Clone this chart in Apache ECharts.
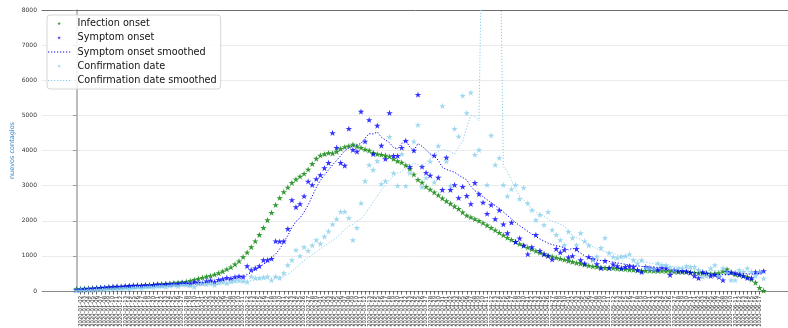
<!DOCTYPE html>
<html>
<head>
<meta charset="utf-8">
<script src="https://cdn.jsdelivr.net/npm/echarts@6/dist/echarts.min.js"></script>
<style>html,body{margin:0;padding:0;background:#fff}#c{width:788px;height:328px}</style>
</head>
<body>
<div id="c"></div>
<script>
// ---- data ----
const startDate = '2020-01-01';
const infectionOnset = [
55,60,70,75,80,90,95,100,110,115,
120,125,130,140,145,150,160,165,170,180,
190,200,205,215,225,240,250,265,290,320,
350,380,410,430,470,510,560,620,680,760,
850,970,1100,1250,1420,1600,1800,2020,2230,2450,
2650,2820,2950,3080,3180,3260,3340,3460,3620,3770,
3860,3900,3930,3920,3970,4050,4100,4130,4170,4120,
4080,4030,4000,3940,3900,3880,3860,3830,3760,3700,
3660,3580,3480,3320,3170,3090,2970,2890,2810,2730,
2640,2560,2490,2410,2340,2240,2150,2100,2050,2000,
1940,1870,1800,1730,1660,1590,1520,1460,1400,1340,
1290,1240,1190,1140,1090,1050,1010,980,950,920,
890,860,830,800,780,750,720,700,690,670,
660,650,650,640,630,620,610,600,590,580,
580,580,575,570,570,565,560,550,545,540,
540,530,520,510,510,500,490,500,510,560,
620,520,470,460,430,400,330,240,90,10];
const symptomOnset = [
30,40,50,60,70,80,90,100,110,120,
130,125,140,150,155,160,150,170,160,180,
190,175,200,190,210,200,230,220,200,250,
240,230,280,300,260,320,340,380,360,400,
420,400,710,600,650,710,880,880,920,1420,
1410,1420,1770,2590,2390,2480,2700,3120,3020,3190,
3300,3500,3650,4500,4080,3650,3570,4620,4020,3970,
5110,4260,4870,3900,4710,4140,3760,5070,3850,3850,
4080,4280,3540,4000,5590,3540,3370,3290,3860,3230,
2880,3800,2880,3020,2650,2970,2710,2480,3080,2760,
2520,2200,2450,2050,2300,1900,1650,1950,1400,1500,
1300,1050,1250,1600,1150,1050,1000,900,1200,1100,
1170,960,1000,1200,880,780,970,910,770,650,
860,660,760,710,650,690,710,690,600,540,
690,650,630,610,670,650,460,600,570,570,
560,520,430,370,540,500,430,460,400,310,
540,540,510,470,430,370,370,540,540,570];
const symptomSmoothed = [
30,38,46,55,64,72,82,92,100,110,
118,126,134,142,148,155,158,162,168,172,
178,184,190,195,200,205,210,215,220,228,
235,240,250,262,275,288,300,320,340,365,
390,420,470,530,600,680,760,850,950,1050,
1200,1380,1580,1800,1980,2080,2250,2450,2700,2950,
3150,3300,3450,3590,3720,3850,3990,4070,4120,4160,
4200,4350,4480,4470,4530,4380,4300,4220,4080,4050,
4200,4280,4100,4000,4200,4120,4020,3900,3840,3720,
3520,3460,3420,3380,3300,3230,3160,2980,2850,2800,
2680,2600,2520,2430,2340,2250,2150,2050,1950,1860,
1780,1700,1620,1550,1480,1420,1360,1320,1290,1270,
1230,1170,1220,1150,1080,1000,940,900,880,870,
860,840,820,800,780,760,745,730,715,700,
690,685,680,670,650,620,600,590,585,580,
570,550,525,510,500,490,480,475,470,465,
460,480,500,510,500,490,480,490,505,520];
const confirmationDate = [
10,20,15,30,25,40,35,50,45,60,
55,70,80,60,90,100,80,110,120,100,
130,140,120,150,170,140,180,170,150,120,
200,230,190,210,170,230,250,220,265,290,
310,280,260,410,370,370,390,410,310,410,
370,510,740,880,1170,1000,1250,1150,1300,1450,
1350,1550,1700,1900,2050,2260,2260,2080,1450,1800,
2500,3130,3590,3450,3700,3050,3130,4390,3360,3000,
3900,2990,3360,4260,4730,2960,3220,3690,3100,4130,
5270,3690,2990,4620,4400,5560,5070,5650,3880,4020,
45000,3020,4430,3590,3790,3020,2700,2900,3020,2620,
2940,2500,2300,2020,2170,1880,2250,1740,1600,1450,
1310,1690,1510,1310,1650,1420,1300,880,980,1230,
1510,1080,970,940,980,1000,1050,880,790,880,
680,650,630,790,740,740,680,600,640,650,
710,690,690,600,400,430,650,740,430,650,
510,310,310,600,550,650,550,430,550,360];
const confirmationSmoothed = [
10,12,15,18,22,26,30,35,40,44,
48,52,58,62,68,74,80,86,92,98,
104,110,118,126,132,138,144,150,150,155,
165,175,185,195,200,205,210,220,230,245,
255,265,280,300,320,335,350,365,370,385,
400,420,480,560,660,760,860,950,1030,1110,
1200,1280,1360,1440,1520,1620,1750,1850,1900,1990,
2050,2200,2350,2550,2700,2880,3000,3160,3280,3350,
3400,3480,3550,3650,3600,3550,3650,3780,3900,3980,
4020,4020,3950,3900,4100,4260,4650,5000,4970,4850,
12100,11900,12100,12000,11800,3540,3400,3150,2900,2700,
2600,2450,2350,2250,2200,2120,2050,1980,1950,1900,
1850,1700,1580,1520,1470,1400,1320,1260,1200,1160,
1120,1100,1080,1030,990,960,930,900,870,840,
820,800,770,750,740,730,700,690,680,670,
650,630,615,600,590,580,580,580,590,590,
580,560,550,550,550,550,540,520,510,500];
const yTicks = [0,1000,2000,3000,4000,5000,6000,7000,8000];
const seriesNames = ['Infection onset','Symptom onset','Symptom onset smoothed','Confirmation date','Confirmation date smoothed'];

// date tick labels, one per day
const dates = (function(){
  const out=[]; const d=new Date(startDate+'T00:00:00Z');
  for(let i=0;i<infectionOnset.length;i++){
    const t=new Date(d.getTime()+i*86400000);
    out.push(t.toISOString().slice(0,10));
  }
  return out;
})();

const N = infectionOnset.length;
const idx = Array.from({length:N},(_,i)=>i);
const pairs = a => a.map((v,i)=>[i,v]);
const xMin = -(N-1)*0.05, xMax = (N-1)*1.05;
const STAR_BODY = 'M0,-1L0.2245,-0.309L0.951,-0.309L0.363,0.118L0.588,0.809L0,0.382L-0.588,0.809L-0.363,0.118L-0.951,-0.309L-0.2245,-0.309Z';
const STAR = 'path://' + STAR_BODY;
// legend star: same star inside a larger invisible bounding box so it draws small
const STAR_LEGEND = 'path://M-1.5,-1.5L-1.5,-1.5ZM1.5,1.5L1.5,1.5Z' + STAR_BODY;
// legend dotted line icon
const DOTS = (function(){
  let p='path://M0,0L0,0ZM0,6L0,6Z'; // bbox height
  for(let x=0;x<24;x+=3.0){ p += 'M'+x+',2.5h1.2v1h-1.2Z'; }
  return p;
})();
const font = 'DejaVu Sans';

const chart = echarts.init(document.getElementById('c'), null, {renderer:'canvas'});
const scatter = (name,color,data)=>({
  name, type:'scatter', data:pairs(data), symbol:STAR, symbolSize:6.5, symbolKeepAspect:true,
  itemStyle:{color}, clip:true, silent:true
});
const line = (name,color,data)=>({
  name, type:'line', data:pairs(data), showSymbol:false, symbol:'none', clip:true, silent:true,
  lineStyle:{color, width:1, type:[1.2,1.8]}, itemStyle:{color}
});
chart.setOption({
  animation:false,
  backgroundColor:'#fff',
  grid:{left:42, top:10, width:756, height:281, outerBoundsMode:'none', containLabel:false},
  legend:{
    orient:'vertical', left:47, top:15, itemWidth:24, itemHeight:6, itemGap:0,
    padding:[1.5,4,1.5,1], borderColor:'#d6d6d6', borderWidth:1, borderRadius:3,
    backgroundColor:'rgba(255,255,255,0.85)',
    itemStyle:{borderWidth:0}, lineStyle:{width:1},
    textStyle:{fontFamily:font, fontSize:9.7, color:'#111', lineHeight:14.2, padding:[0,0,0,1.5]},
    data:[
      {name:seriesNames[0], icon:STAR_LEGEND},
      {name:seriesNames[1], icon:STAR_LEGEND},
      {name:seriesNames[2], icon:DOTS},
      {name:seriesNames[3], icon:STAR_LEGEND},
      {name:seriesNames[4], icon:DOTS}
    ],
    selectedMode:false
  },
  xAxis:[{
    type:'value', min:xMin, max:xMax,
    axisLine:{lineStyle:{color:'#8a8a8a', width:1}},
    axisTick:{customValues:idx, length:3.5, lineStyle:{color:'#444', width:0.8}},
    axisLabel:{customValues:idx, formatter:v=>dates[v]||'', rotate:90, fontSize:5.3, margin:5, color:'#1a1a1a', fontFamily:font},
    splitLine:{show:false}
  },{
    type:'value', position:'top', min:xMin, max:xMax,
    axisLine:{show:true, lineStyle:{color:'#6e6e6e', width:1}},
    axisTick:{show:false}, axisLabel:{show:false}, splitLine:{show:false}
  }],
  yAxis:{
    type:'value', min:yTicks[0], max:yTicks[yTicks.length-1], interval:1000,
    name:'nuevos contagios', nameLocation:'middle', nameGap:26, nameRotate:90, nameMoveOverlap:false,
    nameTextStyle:{color:'#3a86c4', fontSize:6.5, fontFamily:font},
    axisLine:{show:true, lineStyle:{color:'#a6a6a6', width:1.5}},
    axisTick:{show:true, length:3.5, lineStyle:{color:'#888', width:0.8}},
    axisLabel:{fontSize:6, color:'#333', margin:5, fontFamily:font, formatter:v=>String(v)},
    splitLine:{lineStyle:{color:'#ebebeb', width:1}}
  },
  series:[
    scatter(seriesNames[0],'#008000',infectionOnset),
    scatter(seriesNames[1],'#0000ff',symptomOnset),
    line(seriesNames[2],'#0000ff',symptomSmoothed),
    scatter(seriesNames[3],'#87ceeb',confirmationDate),
    line(seriesNames[4],'#87ceeb',confirmationSmoothed)
  ]
});
</script>
</body>
</html>
